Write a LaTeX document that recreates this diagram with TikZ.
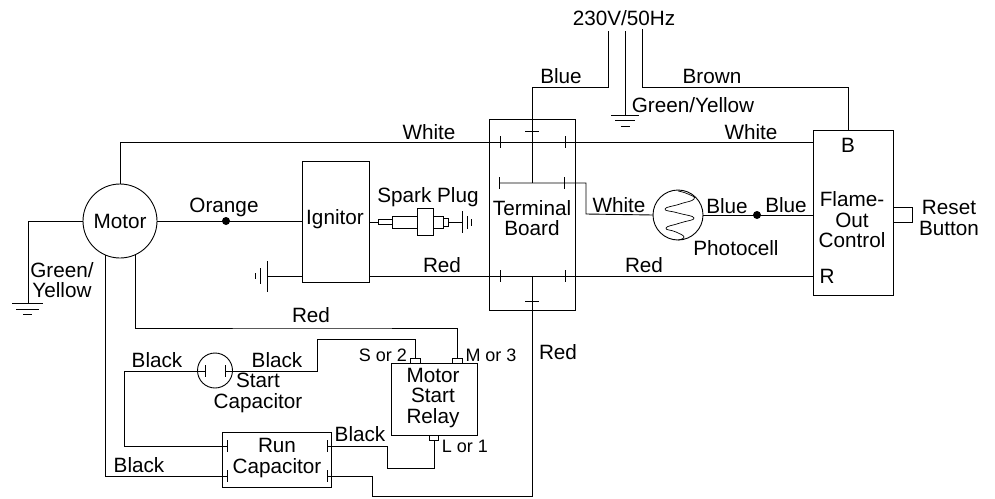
\documentclass[tikz,border=0pt]{standalone}
\usepackage{fontspec}
\setmainfont{Liberation Sans}
\tikzset{
  box/.style={draw,inner sep=0pt,outer sep=0pt},
  pin/.style={draw,inner sep=0pt,outer sep=0pt,minimum width=9.5pt,minimum height=5pt},
  round/.style={draw,circle,inner sep=0pt,outer sep=0pt},
  dot/.style={fill,circle,inner sep=0pt,minimum size=8pt},
  small/.style={font=\fontsize{18}{18}\selectfont},
}
\begin{document}
\begin{tikzpicture}[x=1pt,y=-1pt,line width=.9pt,font=\fontsize{20.7}{20.5}\selectfont,align=center]
\useasboundingbox (0,0) rectangle (995,498);
% main parts
\node[round,minimum size=74pt] (motor) at (120,221) {};
\node[box,minimum width=67pt,minimum height=121pt] (ignitor) at (335.5,221.5) {};
\node[box,minimum width=86pt,minimum height=191pt] (board) at (532,214.5) {};
\node[box,minimum width=80pt,minimum height=165pt] (flame) at (853,212.5) {};
\node[box,minimum width=19pt,minimum height=15pt,anchor=west] (reset) at (flame.east|-0,214.5) {};
\node[round,minimum size=50pt] (photo) at (678,215) {};
\node[round,minimum size=35pt] (startcap) at (215,370.5) {};
\node[box,minimum width=86pt,minimum height=72pt] (relay) at (434,399) {};
\node[box,minimum width=109pt,minimum height=55pt] (runcap) at (276.5,459.5) {};
\node[pin] (pins) at (415.5,360.5) {};
\node[pin] (pinm) at (457.5,360.5) {};
\node[pin] (pinl) at (434,437.5) {};
\node[dot] (dotorange) at (226,221) {};
\node[dot] (dotblue) at (757,215) {};
% ends of the wires
\coordinate (supplyl) at (608,31);
\coordinate (supplyn) at (625,31);
\coordinate (supplyr) at (642,29);
\coordinate (earthtop) at (625,115);
\coordinate (blue) at (532,87);
\coordinate (brown) at (848,87);
\coordinate (bar) at (532,183);
\coordinate (barl) at (499,183);
\coordinate (barr) at (586,214);
\coordinate (flamew) at (813,142);
\coordinate (flamer) at (813,276);
\coordinate (flameb) at (848,130);
\coordinate (ignr) at (369,276);
\coordinate (ignl) at (302,276);
\coordinate (earthign) at (267,276);
\coordinate (earthmotor) at (28,303);
\coordinate (boardred) at (532,276);
\coordinate (plug) at (378,222);
\coordinate (plugend) at (448,222);
\coordinate (plugearth) at (462,222);
\coordinate (runll) at (227,446);
\coordinate (runlb) at (227,476);
\coordinate (runrt) at (327,446);
\coordinate (runrb) at (327,476);
\coordinate (capl) at (205,371);
\coordinate (capr) at (225,371);
% wires
\draw (supplyl) |- (blue) -- (bar);
\draw (supplyn) -- (earthtop);
\draw (supplyr) |- (brown) -- (flameb);
\draw (motor.north) |- (flamew);
\draw (motor.west) -| (earthmotor);
\draw (motor.east) -- (ignitor.west|-motor.east);
\draw (ignl) -- (earthign);
\draw (ignr) -- (flamer);
\draw (barl) -| (barr) -- (photo.west);
\draw (photo.east) -- (flame.west|-photo.east);
\draw (ignitor.east|-plug) -- (plug);
\draw (plugend) -- (plugearth);
\draw (motor.246) |- (runlb);
\draw (motor.294) |- (328,328) -| (pinm.north);
\draw (pins.north) |- (317,339) |- (capr);
\draw (capl) -| (124,446) -- (runll);
\draw (pinl.south) |- (387,468) |- (runrt);
\draw (runrb) -| (372,496) -| (boardred);
% terminals
\foreach \x/\y in {500/142,565/142,499/183,564/183,500/276,565/276,205/371,225/371,227/446,227/476,327/446,327/476}
  \draw (\x,\y-6)--(\x,\y+6);
\foreach \y in {131,301}
  \draw (525,\y)--(539,\y);
% earth symbols
\draw (611,115)--(639,115) (615,120)--(635,120) (621,126)--(630,126);
\draw (12,303)--(43,303) (16,309)--(39,309) (23,314)--(32,314);
\draw (267,261)--(267,292) (260,268)--(260,284) (255,273)--(255,279);
\draw (462,211)--(462,233) (467,216)--(467,229) (471,219)--(471,226);
% spark plug
\draw (378,219.5) rectangle (392,224.5);
\draw (392,216) rectangle (417,228);
\draw (417,208.5) rectangle (433.5,235);
\draw (433.5,216) rectangle (443,228);
\draw (443,218) rectangle (448,226);
% photocell wave
\draw[line width=.7pt] plot[smooth,tension=.9] coordinates {(678,191) (688,194) (694,199) (680,204) (665,209) (678,213) (694,218) (680,223) (666,228) (676,232) (684,237) (678,240)};
% labels
\node at (624,18){230V/50Hz};
\node at (561,76){Blue};
\node at (712,76){Brown};
\node at (693,105){Green/Yellow};
\node at (429,132){White};
\node at (751,132){White};
\node at (120,221){Motor};
\node at (224,207){Orange};
\node at (335,219){Ignitor};
\node at (428,197){Spark Plug};
\node at (532,218){Terminal\\Board};
\node at (619,205){White};
\node at (727,206){Blue};
\node at (786,205){Blue};
\node at (736,248){Photocell};
\node at (852,220){Flame-\\Out\\Control};
\node at (848,145){B};
\node at (827,276){R};
\node at (949,218){Reset\\Button};
\node at (62,280){Green/\\Yellow};
\node at (442,265){Red};
\node at (644,265){Red};
\node at (311,315){Red};
\node at (558,352){Red};
\node at (157,360){Black};
\node at (277,360){Black};
\node at (258,393){Start\\Capacitor};
\node at (433,398){Motor\\Start\\Relay};
\node at (277,458){Run\\Capacitor};
\node at (360,434){Black};
\node at (139,465){Black};
\node[small] at (383,355){S or 2};
\node[small] at (491,355){M or 3};
\node[small] at (465,446){L or 1};
\end{tikzpicture}
\end{document}
